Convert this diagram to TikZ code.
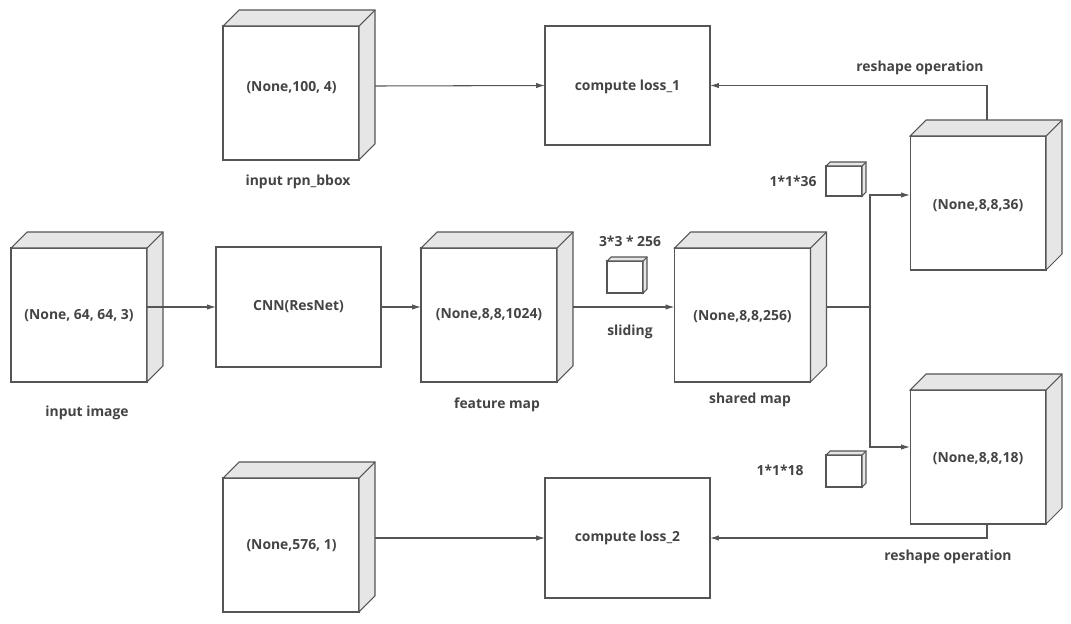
\documentclass[tikz,border=0pt]{standalone}
\usepackage{fontspec}
\setmainfont{Open Sans}
\usetikzlibrary{arrows.meta}
\definecolor{linegray}{HTML}{555555}
\definecolor{facegray}{HTML}{E6E6E6}
\definecolor{textgray}{HTML}{444444}
\tikzset{
  cube/.style={draw=linegray,fill=white,minimum width=2.72cm,minimum height=2.68cm,inner sep=0pt,outer sep=0pt},
  smallcube/.style={draw=linegray,fill=white,minimum width=0.72cm,minimum height=0.64cm,inner sep=0pt,outer sep=0pt},
  opbox/.style={draw=linegray,fill=white,minimum width=3.3cm,minimum height=2.38cm,inner sep=0pt,outer sep=0pt},
  face/.style={draw=linegray,fill=facegray},
  lbl/.style={text=textgray,font=\fontsize{7.9}{9}\selectfont\bfseries},
  arr/.style={draw=linegray,-{Latex[length=5pt,width=3pt]}},
}
% top and side face of a box, #2 = depth
\newcommand{\depthfaces}[2]{%
  \filldraw[face] (#1.north west) -- ([shift={(#2,-#2)}]#1.north west) -- ([shift={(#2,-#2)}]#1.north east)
    -- ([shift={(#2,-#2)}]#1.south east) -- (#1.south east) -- (#1.north east) -- cycle;
  \draw[linegray] (#1.north east) -- ([shift={(#2,-#2)}]#1.north east);}
\begin{document}
\begin{tikzpicture}[x=0.02cm,y=-0.02cm,line width=0.6pt]
\useasboundingbox (0,0) rectangle (1071,623);
% main row
\node[cube] (img) at (79,315) {};
\depthfaces{img}{16}
\node[lbl] (imgtxt) at (79,316) {(None, 64, 64, 3)};
\node[lbl] (imglbl) at (87,413) {input image};
\node[opbox,minimum height=2.4cm] (cnn) at (298.5,307) {};
\node[lbl] (cnntxt) at (298.5,307) {CNN(ResNet)};
\node[cube] (fmap) at (489,315) {};
\depthfaces{fmap}{16}
\node[lbl] (fmaptxt) at (489,315) {(None,8,8,1024)};
\node[lbl] (fmaplbl) at (497,405) {feature map};
\node[smallcube] (win) at (625,277) {};
\depthfaces{win}{4}
\node[lbl] (winlbl) at (630,241) {3*3 * 256};
\node[lbl] (slide) at (630,332) {sliding};
\node[cube] (shared) at (742.5,315) {};
\depthfaces{shared}{16}
\node[lbl] (sharedtxt) at (742.5,317) {(None,8,8,256)};
\node[lbl] (sharedlbl) at (750,400) {shared map};
% two heads
\node[cube] (bbox) at (978,203) {};
\depthfaces{bbox}{16}
\node[lbl] (bboxtxt) at (978,206) {(None,8,8,36)};
\node[cube] (cls) at (978,457) {};
\depthfaces{cls}{16}
\node[lbl] (clstxt) at (978,459) {(None,8,8,18)};
\node[smallcube,minimum height=0.6cm] (k36) at (844,181) {};
\depthfaces{k36}{4}
\node[lbl] (k36lbl) at (793,181) {1*1*36};
\node[smallcube] (k18) at (844,471) {};
\depthfaces{k18}{4}
\node[lbl] (k18lbl) at (780,470) {1*1*18};
% loss rows
\node[cube] (rpn) at (291,93) {};
\depthfaces{rpn}{16}
\node[lbl] (rpntxt) at (291.5,88) {(None,100, 4)};
\node[lbl] (rpnlbl) at (298,182) {input rpn\_bbox};
\node[opbox] (loss1) at (627.5,85.5) {};
\node[lbl] (loss1txt) at (627.5,87) {compute loss\_1};
\node[cube] (lab) at (291,545) {};
\depthfaces{lab}{16}
\node[lbl] (labtxt) at (291.5,546) {(None,576, 1)};
\node[opbox,minimum height=2.4cm] (loss2) at (627.5,538) {};
\node[lbl] (loss2txt) at (627.5,538) {compute loss\_2};
\node[lbl] (resh1) at (920,68) {reshape operation};
\node[lbl] (resh2) at (948,557) {reshape operation};
% connectors
\coordinate (split) at (870,307);
\draw[arr] ([shift={(0,-8)}]img.east) -- (cnn.west);
\draw[arr] (cnn.east) -- ([shift={(0,-8)}]fmap.west);
\draw[arr] ([shift={(16,-8)}]fmap.east) -- ([shift={(0,-8)}]shared.west);
\draw[linegray] ([shift={(16,-8)}]shared.east) -- (split);
\draw[arr] (split) |- ([shift={(0,-8)}]bbox.west);
\draw[arr] (split) |- ([shift={(0,-10)}]cls.west);
\draw[arr] ([shift={(16,-7)}]rpn.east) -- (loss1.west);
\draw[arr] ([shift={(9,-16)}]bbox.north) |- (loss1.east);
\draw[arr] ([shift={(9,0)}]cls.south) |- (loss2.east);
\draw[arr] ([shift={(16,-7)}]lab.east) -- (loss2.west);
\end{tikzpicture}
\end{document}
